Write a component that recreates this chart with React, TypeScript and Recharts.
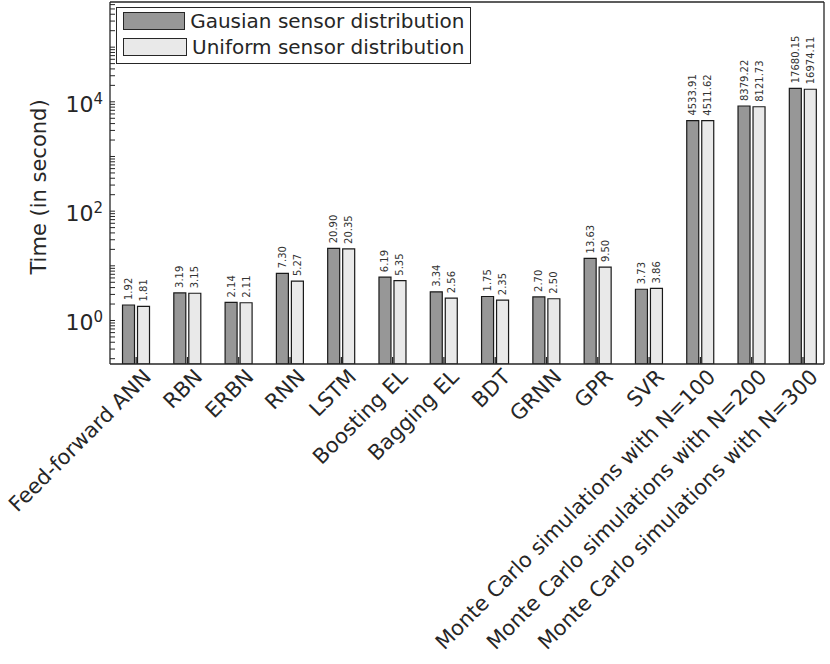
import React from "react";
import { BarChart, Bar, XAxis, YAxis, Legend, LabelList } from "recharts";

const methods = [
  "Feed-forward ANN",
  "RBN",
  "ERBN",
  "RNN",
  "LSTM",
  "Boosting EL",
  "Bagging EL",
  "BDT",
  "GRNN",
  "GPR",
  "SVR",
  "Monte Carlo simulations with N=100",
  "Monte Carlo simulations with N=200",
  "Monte Carlo simulations with N=300",
];

// bar heights as drawn (the BDT gaussian bar stands near 2.75 although it is printed as 1.75)
const gaussianTime = [1.92, 3.19, 2.14, 7.3, 20.9, 6.19, 3.34, 2.75, 2.7, 13.63, 3.73, 4533.91, 8379.22, 17680.15];
const uniformTime = [1.81, 3.15, 2.11, 5.27, 20.35, 5.35, 2.56, 2.35, 2.5, 9.5, 3.86, 4511.62, 8121.73, 16974.11];

// numbers printed above the bars
const gaussianPrinted = ["1.92", "3.19", "2.14", "7.30", "20.90", "6.19", "3.34", "1.75", "2.70", "13.63", "3.73", "4533.91", "8379.22", "17680.15"];
const uniformPrinted = ["1.81", "3.15", "2.11", "5.27", "20.35", "5.35", "2.56", "2.35", "2.50", "9.50", "3.86", "4511.62", "8121.73", "16974.11"];

const seriesNames = ["Gausian sensor distribution", "Uniform sensor distribution"];

const yLabelTicks = [1, 100, 10000];
const decadeStarts = [0.1, 1, 10, 100, 1000, 10000, 100000];
const minorSteps = [1, 2, 3, 4, 5, 6, 7, 8, 9];

const Y_MIN = 0.16;
const Y_MAX = 670000;
const yTicks = decadeStarts
  .flatMap((d) => minorSteps.map((m) => Number((d * m).toPrecision(3))))
  .filter((v) => v >= Y_MIN && v <= Y_MAX);
const xTicks = methods.map((_, i) => i + 1);

const data = methods.map((name, i) => ({
  x: i + 1,
  name,
  gaussian: gaussianTime[i],
  uniform: uniformTime[i],
  gaussianText: gaussianPrinted[i],
  uniformText: uniformPrinted[i],
}));

const INK = "#262626";
const FONT = "DejaVu Sans, sans-serif";
const DARK_FILL = "#979797";
const LIGHT_FILL = "#e9e9e9";

function MethodTick({ x, y, payload }: any) {
  const name = methods[payload.value - 1];
  const ax = x + 12;
  const ay = y;
  return (
    <text
      x={ax}
      y={ay}
      transform={`rotate(-45, ${ax}, ${ay})`}
      textAnchor="end"
      dominantBaseline="middle"
      fontSize={21}
      fill={INK}
      fontFamily={FONT}
    >
      {name}
    </text>
  );
}

function PowerTick({ x, y, payload }: any) {
  if (!yLabelTicks.includes(payload.value)) return <g />;
  const exp = Math.round(Math.log10(payload.value));
  return (
    <text x={x} y={y + 10} textAnchor="end" fontSize={22} fill={INK} fontFamily={FONT}>
      10
      <tspan dy={-8} fontSize={15}>
        {exp}
      </tspan>
    </text>
  );
}

const valueLabel = (props: any) => {
  const { x, y, width, value } = props;
  const cx = x + width / 2;
  const cy = y - 5;
  return (
    <text
      x={cx}
      y={cy}
      transform={`rotate(-90, ${cx}, ${cy})`}
      textAnchor="start"
      dominantBaseline="central"
      fontSize={10}
      fill="#333"
      fontFamily={FONT}
    >
      {value}
    </text>
  );
};

function LegendBox() {
  const rows = [
    { name: seriesNames[0], fill: DARK_FILL },
    { name: seriesNames[1], fill: LIGHT_FILL },
  ];
  return (
    <div
      style={{
        border: `1.5px solid ${INK}`,
        background: "#fff",
        padding: "0 5px 3px 5.5px",
        width: 342,
        fontFamily: FONT,
        fontSize: 20,
        color: INK,
      }}
    >
      {rows.map((r) => (
        <div key={r.name} style={{ height: 26, display: "flex", alignItems: "center" }}>
          <div
            style={{
              width: 63,
              height: 16,
              background: r.fill,
              border: `1.5px solid ${INK}`,
              marginRight: 5,
            }}
          />
          <span style={{ whiteSpace: "nowrap", lineHeight: "26px" }}>{r.name}</span>
        </div>
      ))}
    </div>
  );
}

export default function App() {
  return (
    <div style={{ position: "absolute", left: 0, top: 0, background: "#fff" }}>
      <BarChart
        width={830}
        height={664}
        data={data}
        margin={{ top: 1, right: 5, left: 0, bottom: 0 }}
        barSize={12}
        barGap={3}
      >
        <XAxis
          dataKey="x"
          type="number"
          domain={[0.49, 14.41]}
          allowDataOverflow
          ticks={xTicks}
          interval={0}
          height={300}
          tickSize={-7}
          tickMargin={17}
          tick={<MethodTick />}
          axisLine={{ stroke: INK, strokeWidth: 1.3 }}
          tickLine={{ stroke: INK, strokeWidth: 1.3 }}
        />
        <XAxis
          xAxisId="top"
          orientation="top"
          dataKey="x"
          type="number"
          domain={[0.49, 14.41]}
          allowDataOverflow
          ticks={xTicks}
          interval={0}
          height={1}
          tickSize={-7}
          tick={false}
          axisLine={{ stroke: INK, strokeWidth: 1.3 }}
          tickLine={{ stroke: INK, strokeWidth: 1.3 }}
        />
        <YAxis
          type="number"
          scale="log"
          domain={[Y_MIN, Y_MAX]}
          allowDataOverflow
          ticks={yTicks}
          interval={0}
          width={110}
          tickSize={-5}
          tickMargin={12}
          tick={<PowerTick />}
          axisLine={{ stroke: INK, strokeWidth: 1.3 }}
          tickLine={{ stroke: INK, strokeWidth: 1 }}
          label={{
            content: ({ viewBox }: any) => {
              const cx = 39;
              const cy = viewBox.y + viewBox.height / 2 + 4;
              return (
                <text
                  x={cx}
                  y={cy}
                  transform={`rotate(-90, ${cx}, ${cy})`}
                  textAnchor="middle"
                  dominantBaseline="central"
                  fontSize={21}
                  fill={INK}
                  fontFamily={FONT}
                >
                  Time (in second)
                </text>
              );
            },
          }}
        />
        <YAxis
          yAxisId="right"
          orientation="right"
          type="number"
          scale="log"
          domain={[Y_MIN, Y_MAX]}
          allowDataOverflow
          ticks={yTicks}
          interval={0}
          width={1}
          tickSize={-5}
          tick={false}
          axisLine={{ stroke: INK, strokeWidth: 1.3 }}
          tickLine={{ stroke: INK, strokeWidth: 1 }}
        />
        <Legend
          layout="vertical"
          align="center"
          verticalAlign="middle"
          content={<LegendBox />}
          wrapperStyle={{ left: 116, top: 7, width: "auto" }}
        />
        <Bar
          dataKey="gaussian"
          name={seriesNames[0]}
          fill={DARK_FILL}
          stroke="#1a1a1a"
          strokeWidth={1.2}
          isAnimationActive={false}
        >
          <LabelList dataKey="gaussianText" content={valueLabel} />
        </Bar>
        <Bar
          dataKey="uniform"
          name={seriesNames[1]}
          fill={LIGHT_FILL}
          stroke="#1a1a1a"
          strokeWidth={1.2}
          isAnimationActive={false}
        >
          <LabelList dataKey="uniformText" content={valueLabel} />
        </Bar>
      </BarChart>
    </div>
  );
}
